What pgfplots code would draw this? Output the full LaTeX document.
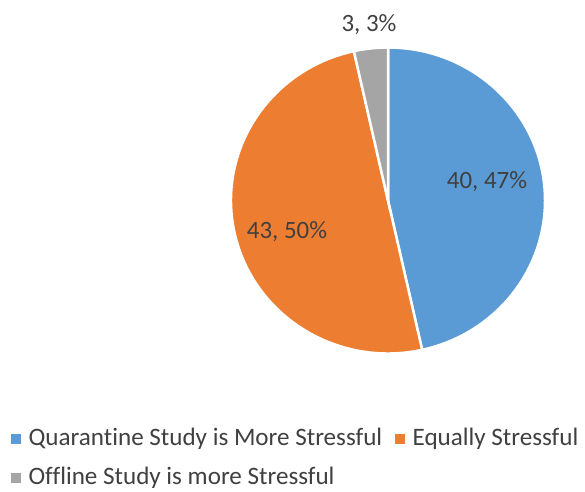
\documentclass[border=0pt]{standalone}
\usepackage{pgfplots}
\pgfplotsset{compat=1.18}
\usepackage{pgfplotstable}
\usepackage{fontspec}
\setmainfont{Carlito}[Ligatures=NoCommon]

\definecolor{qblue}{HTML}{5B9BD5}
\definecolor{eorange}{HTML}{ED7D31}
\definecolor{ogray}{HTML}{A5A5A5}
\definecolor{lbl}{HTML}{404040}

\newcommand\labelfont{\fontsize{25}{30}\selectfont}
\newcommand\legendfont{\fontsize{25.2}{30}\selectfont}

% responses per answer, slice colour, label position
\pgfplotstableread{
value color lx ly
40 qblue 487 310
43 eorange 287 260
3 ogray 369 467
}\pietable

\begin{document}
\begin{tikzpicture}
\useasboundingbox (0,0) rectangle (585bp,492bp);
\begin{axis}[
  at={(0,0)}, anchor=south west,
  scale only axis, width=585bp, height=492bp,
  xmin=0, xmax=585, ymin=0, ymax=492,
  hide axis, clip=false,
  legend columns=2,
  legend cell align=left,
  legend style={draw=none, fill=none, inner sep=0pt,
    at={(axis cs:11,65)}, anchor=north west,
    font=\legendfont, text=lbl,
    row sep=15bp,
    nodes={inner sep=0pt, text height=18bp, text depth=6bp},
    /tikz/every odd column/.append style={column sep=8bp},
    /tikz/every even column/.append style={column sep=13bp}},
]
% total of all answers
\def\pietotal{0}
\pgfplotsforeachungrouped \i in {0,...,2}{%
  \pgfplotstablegetelem{\i}{value}\of\pietable
  \pgfmathsetmacro\pietotal{\pietotal+\pgfplotsretval}%
}
% slices, clockwise from twelve o'clock
\def\astart{90}
\pgfplotsforeachungrouped \i in {0,...,2}{%
  \pgfplotstablegetelem{\i}{value}\of\pietable \let\val\pgfplotsretval
  \pgfplotstablegetelem{\i}{color}\of\pietable \let\col\pgfplotsretval
  \pgfplotstablegetelem{\i}{lx}\of\pietable \let\lx\pgfplotsretval
  \pgfplotstablegetelem{\i}{ly}\of\pietable \let\ly\pgfplotsretval
  \pgfmathsetmacro\aend{\astart-360*\val/\pietotal}%
  \pgfmathtruncatemacro\pct{round(100*\val/\pietotal)}%
  \edef\doslice{%
    \noexpand\fill[\col, draw=white, line width=2.5bp]
      (axis cs:388,291.5) -- ++({157bp*cos(\astart)},{153bp*sin(\astart)})
      arc[start angle=\astart, end angle=\aend, x radius=157bp, y radius=153bp] -- cycle;
    \noexpand\node[text=lbl, font=\noexpand\labelfont, inner sep=0pt]
      at (axis cs:\lx,\ly) {\val, \pct\noexpand\%};
  }%
  \doslice
  \let\astart\aend
}
\addlegendimage{legend image code/.code={\fill[qblue] (0bp,-4.5bp) rectangle (9bp,4.5bp);}}
\addlegendentry{Quarantine Study is More Stressful}
\addlegendimage{legend image code/.code={\fill[eorange] (0bp,-4.5bp) rectangle (9bp,4.5bp);}}
\addlegendentry{Equally Stressful}
\addlegendimage{legend image code/.code={\fill[ogray] (0bp,-4.5bp) rectangle (9bp,4.5bp);}}
\addlegendentry{Offline Study is more Stressful}
\end{axis}
\end{tikzpicture}
\end{document}
